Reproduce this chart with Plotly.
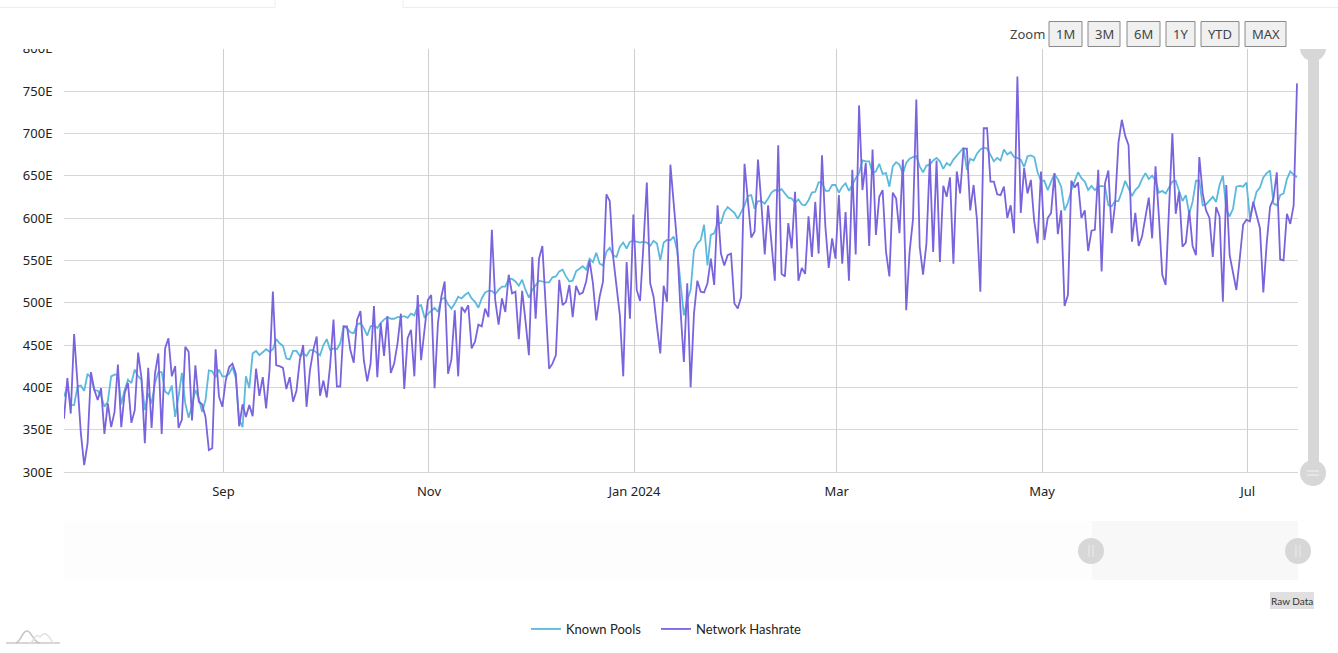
#!/usr/bin/env python3
"""
Known pools vs network hashrate, daily, Jul 2023 - Jul 2024
"""

import pandas as pd
import plotly.graph_objects as go

W = 1338
H = 653

START_DATE = '2023-07-15 16:00'
END_DATE = '2024-07-15 23:00'

KNOWN_POOLS = [
    389, 401, 379, 379, 401, 402, 396, 416, 411, 397, 396, 390, 377, 383, 413, 415, 415, 380, 397, 409,
    405, 421, 413, 409, 373, 393, 381, 405, 418, 418, 395, 392, 402, 365, 389, 417, 381, 364, 379, 397,
    387, 371, 385, 420, 419, 412, 421, 413, 413, 416, 424, 411, 362, 353, 413, 399, 440, 443, 438, 441,
    445, 442, 445, 457, 452, 449, 434, 433, 443, 443, 437, 440, 437, 444, 444, 441, 438, 450, 457, 444,
    446, 445, 452, 472, 470, 465, 464, 474, 476, 470, 461, 472, 473, 470, 476, 480, 483, 481, 481, 483,
    483, 484, 482, 487, 485, 496, 497, 483, 487, 491, 494, 489, 504, 506, 498, 493, 499, 507, 505, 509,
    512, 505, 501, 494, 505, 512, 514, 514, 510, 515, 519, 519, 528, 528, 525, 520, 527, 515, 506, 515,
    521, 526, 525, 524, 524, 530, 531, 537, 539, 531, 525, 526, 537, 540, 543, 539, 552, 548, 559, 546,
    544, 560, 565, 556, 554, 566, 571, 564, 572, 573, 572, 571, 572, 571, 567, 573, 570, 550, 571, 574,
    574, 578, 562, 527, 485, 503, 515, 562, 570, 574, 592, 544, 580, 582, 594, 594, 607, 613, 609, 606,
    599, 607, 615, 626, 627, 611, 620, 620, 617, 623, 630, 633, 632, 634, 629, 624, 623, 618, 622, 616,
    615, 621, 630, 631, 642, 642, 632, 632, 639, 639, 630, 637, 641, 632, 639, 647, 653, 668, 667, 667,
    653, 655, 664, 652, 653, 637, 661, 666, 663, 652, 665, 670, 672, 673, 661, 654, 662, 663, 668, 671,
    667, 658, 665, 662, 669, 674, 678, 683, 657, 670, 668, 676, 681, 683, 682, 675, 667, 671, 668, 681,
    675, 678, 672, 671, 669, 660, 673, 674, 672, 654, 644, 644, 633, 643, 652, 646, 637, 609, 618, 633,
    644, 654, 647, 643, 633, 638, 633, 637, 638, 637, 615, 614, 620, 620, 631, 644, 635, 626, 633, 637,
    646, 653, 646, 650, 644, 630, 632, 629, 636, 643, 644, 631, 620, 627, 605, 619, 644, 644, 615, 616,
    620, 625, 619, 639, 650, 610, 602, 611, 637, 638, 637, 642, 600, 615, 631, 636, 648, 653, 656, 617,
    615, 627, 629, 646, 655, 651, 648,
]

NETWORK_HASHRATE = [
    363, 411, 369, 463, 405, 346, 308, 334, 418, 397, 385, 399, 345, 381, 353, 371, 427, 353, 393, 405,
    358, 373, 441, 411, 334, 423, 352, 416, 440, 345, 446, 458, 413, 425, 352, 362, 448, 442, 361, 426,
    383, 380, 365, 326, 328, 445, 389, 377, 408, 424, 428, 416, 354, 380, 365, 379, 366, 422, 390, 412,
    375, 420, 513, 426, 425, 423, 398, 412, 383, 396, 432, 450, 377, 420, 444, 460, 390, 408, 388, 426,
    480, 401, 401, 472, 472, 444, 429, 480, 490, 432, 407, 428, 496, 412, 476, 437, 484, 417, 428, 452,
    487, 398, 458, 468, 413, 509, 432, 466, 503, 509, 399, 476, 507, 525, 416, 433, 491, 413, 495, 489,
    497, 446, 454, 474, 472, 493, 483, 586, 503, 474, 505, 489, 533, 511, 513, 457, 514, 478, 438, 554,
    481, 552, 567, 495, 422, 428, 438, 527, 497, 501, 521, 483, 520, 510, 512, 525, 550, 523, 479, 507,
    525, 628, 620, 554, 521, 485, 413, 548, 481, 604, 515, 502, 568, 642, 523, 507, 472, 440, 520, 501,
    663, 613, 570, 491, 430, 523, 400, 487, 526, 513, 512, 523, 552, 521, 615, 558, 544, 556, 558, 499,
    493, 507, 664, 621, 577, 584, 669, 617, 557, 615, 566, 526, 686, 534, 531, 594, 564, 631, 526, 541,
    534, 602, 554, 619, 558, 674, 590, 541, 576, 552, 627, 546, 607, 526, 657, 557, 733, 633, 665, 567,
    681, 580, 625, 633, 560, 531, 630, 623, 582, 669, 491, 560, 598, 740, 566, 533, 570, 670, 560, 668,
    548, 638, 625, 648, 546, 655, 629, 682, 682, 609, 639, 598, 513, 706, 706, 643, 643, 628, 627, 637,
    600, 615, 582, 767, 606, 659, 629, 645, 596, 570, 655, 574, 600, 606, 653, 581, 609, 496, 509, 644,
    636, 642, 600, 609, 561, 585, 586, 657, 537, 641, 656, 582, 617, 689, 716, 697, 686, 572, 606, 567,
    578, 602, 624, 576, 661, 602, 533, 521, 617, 700, 605, 631, 566, 571, 609, 567, 556, 672, 629, 609,
    600, 554, 613, 602, 501, 639, 556, 535, 515, 552, 592, 598, 596, 619, 605, 588, 512, 570, 613, 623,
    654, 551, 550, 605, 593, 615, 759,
]

Y_TICKS = [300, 350, 400, 450, 500, 550, 600, 650, 700, 750, 800]
X_TICKS = ['2023-09-01', '2023-11-01', '2024-01-01', '2024-03-01', '2024-05-01', '2024-07-01']
X_LABELS = ['Sep', 'Nov', 'Jan 2024', 'Mar', 'May', 'Jul']
ZOOM_BUTTONS = ['1M', '3M', '6M', '1Y', 'YTD', 'MAX']

CYAN = '#5cb9dc'
PURPLE = '#7a63dd'
GRID = '#d6d6d6'
HANDLE = '#d7d7d7'
FONT = 'Noto Sans'
LEGEND_FONT = 'Lato'


def fx(x):
    return x / W


def fy(y):
    return 1 - y / H


def rect(x0, y0, x1, y1, fill, line=None):
    return dict(type='rect', xref='paper', yref='paper', x0=fx(x0), x1=fx(x1), y0=fy(y0), y1=fy(y1),
                fillcolor=fill, line=dict(color=line, width=1) if line else dict(width=0), layer='above')


def circle(cx, cy, r, fill):
    return dict(type='circle', xref='paper', yref='paper', x0=fx(cx - r), x1=fx(cx + r), y0=fy(cy - r),
                y1=fy(cy + r), fillcolor=fill, line=dict(width=0), layer='above')


def seg(x0, y0, x1, y1, color, width=1):
    return dict(type='line', xref='paper', yref='paper', x0=fx(x0), x1=fx(x1), y0=fy(y0), y1=fy(y1),
                line=dict(color=color, width=width), layer='above')


def curve(points, color):
    # points: start, then triples of cubic bezier controls
    d = f'M{fx(points[0][0])},{fy(points[0][1])}'
    for i in range(1, len(points), 3):
        d += ' C' + ' '.join(f'{fx(x)},{fy(y)}' for x, y in points[i:i + 3])
    return dict(type='path', xref='paper', yref='paper', path=d, line=dict(color=color, width=1.5), layer='above')


def label(x, y, text, size=13, color='#333333', family=FONT):
    return dict(xref='paper', yref='paper', x=fx(x), y=fy(y), text=text, showarrow=False, xanchor='center',
                yanchor='middle', font=dict(family=family, size=size, color=color))


def legend_at(x):
    return dict(orientation='h', x=fx(x), y=fy(629), xanchor='left', yanchor='middle',
                font=dict(family=LEGEND_FONT, size=13, color='#222222'), bgcolor='rgba(0,0,0,0)')


def main():
    dates = pd.date_range(START_DATE, periods=len(NETWORK_HASHRATE), freq='D')

    fig = go.Figure()
    fig.add_trace(go.Scatter(x=dates[:len(KNOWN_POOLS)], y=KNOWN_POOLS, name='Known Pools', mode='lines',
                             line=dict(color=CYAN, width=1.8), legend='legend', showlegend=True))
    fig.add_trace(go.Scatter(x=dates, y=NETWORK_HASHRATE, name='Network Hashrate', mode='lines',
                             line=dict(color=PURPLE, width=1.8), legend='legend2', showlegend=True))

    shapes = []
    # tab strip along the top of the page
    shapes.append(seg(0, 7.5, 275, 7.5, '#eeeeee'))
    shapes.append(seg(275, 0, 275, 7.5, '#eeeeee'))
    shapes.append(seg(403, 0, 403, 7.5, '#eeeeee'))
    shapes.append(seg(403, 7.5, W, 7.5, '#eeeeee'))

    # vertical scrollbar, the top handle is cut off by the white band
    shapes.append(rect(1308, 48, 1319, 472, HANDLE))
    shapes.append(circle(1313, 48, 13, HANDLE))
    shapes.append(circle(1313, 473, 13, HANDLE))
    shapes.append(seg(1307, 471, 1319, 471, '#f2f2f2'))
    shapes.append(seg(1307, 475, 1319, 475, '#f2f2f2'))
    shapes.append(rect(0, 9, W, 49, 'white'))

    # navigator
    shapes.append(rect(64, 521, 1092, 580, '#fdfdfd'))
    shapes.append(rect(1092, 521, 1298, 580, '#f8f8f8'))
    for cx in [1091, 1298]:
        shapes.append(circle(cx, 551, 13, HANDLE))
        shapes.append(seg(cx - 2, 545, cx - 2, 557, '#ececec'))
        shapes.append(seg(cx + 2, 545, cx + 2, 557, '#ececec'))

    # raw data button
    shapes.append(rect(1270, 592, 1314, 609, '#e0e0e0'))

    # little logo, bottom left
    shapes.append(seg(6, 643, 60, 643, '#c9c9c9', 1.5))
    shapes.append(curve([(16, 643), (22, 640), (22, 631), (27, 631), (32, 631), (33, 643), (40, 643)], '#c4c4c4'))
    shapes.append(curve([(30, 643), (35, 641), (35, 632), (40, 637), (44, 632), (47, 632), (53, 643)], '#e2e2e2'))

    # zoom buttons
    spans = [(1049, 1082), (1088, 1120), (1127, 1160), (1166, 1195), (1201, 1239), (1245, 1286)]
    annotations = [label(1027, 34, 'Zoom', 13, '#444444')]
    for text, (x0, x1) in zip(ZOOM_BUTTONS, spans):
        shapes.append(rect(x0, 21.5, x1, 46.5, '#f0f0f0', '#8a8a8a'))
        annotations.append(label((x0 + x1) / 2, 34, text, 13, '#444444'))
    annotations.append(label(1292, 600.5, 'Raw Data', 10, '#333333', LEGEND_FONT))

    fig.update_layout(
        width=W, height=H, margin=dict(l=0, r=0, t=0, b=0, autoexpand=False), paper_bgcolor='white',
        plot_bgcolor='white', font=dict(family=FONT, size=13, color='#222222'), shapes=shapes,
        annotations=annotations, legend=legend_at(526), legend2=legend_at(656),
        xaxis=dict(domain=[fx(64), fx(1298)], range=[START_DATE, END_DATE], tickvals=X_TICKS, ticktext=X_LABELS,
                   showgrid=True, gridcolor='#cfcfcf', gridwidth=1, zeroline=False, ticks='outside', ticklen=7,
                   tickcolor='rgba(0,0,0,0)', showline=True, linecolor=GRID, linewidth=1,
                   tickfont=dict(family=FONT, size=13, color='#222222')),
        yaxis=dict(domain=[fy(472), fy(48)], range=[300, 800.8], tickvals=Y_TICKS,
                   ticktext=[f'{v}E' for v in Y_TICKS],
                   showgrid=True, gridcolor=GRID, gridwidth=1, zeroline=False, ticks='outside', ticklen=8,
                   tickcolor='rgba(0,0,0,0)', showline=False,
                   tickfont=dict(family=FONT, size=13, color='#222222')),
    )

    # the default page leaves an 8px margin round the graph div
    fig.write_html('out.html', config={'displayModeBar': False}, post_script="document.body.style.margin='0';")


if __name__ == '__main__':
    main()
